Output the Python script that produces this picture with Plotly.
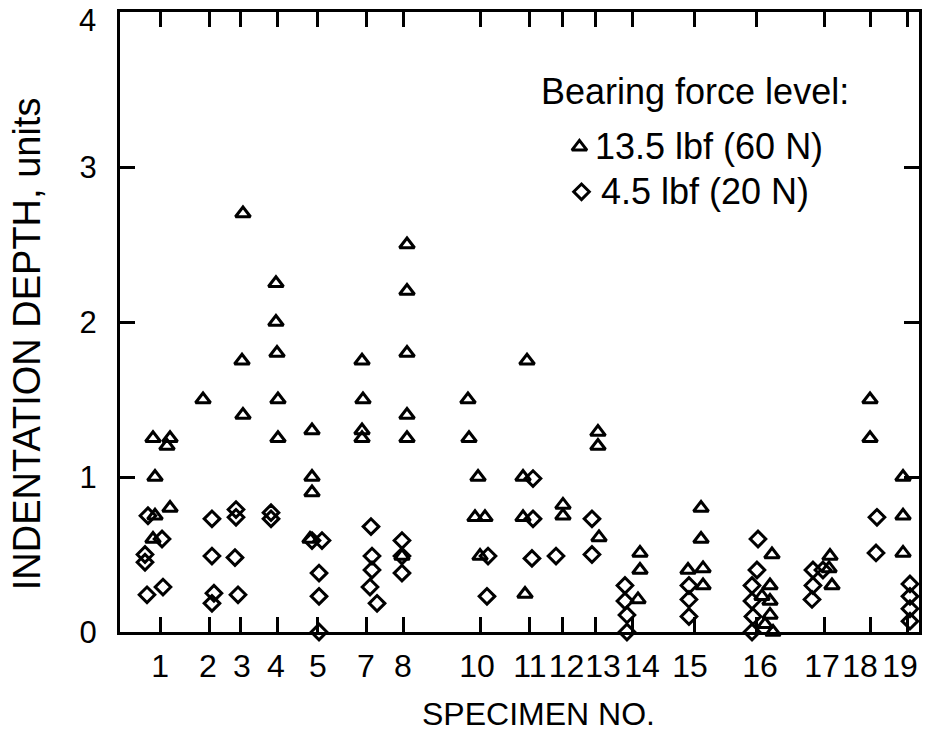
import plotly.graph_objects as go

# Specimen tick positions along the horizontal axis (axis units 0-100)
specimen_labels = ["1", "2", "3", "4", "5", "7", "8", "10", "11", "12",
                   "13", "14", "15", "16", "17", "18", "19"]
specimen_pos = [5.13, 11.14, 15.02, 19.65, 24.66, 30.91, 35.42, 45.06, 51.19,
                55.44, 59.57, 64.08, 71.96, 79.60, 88.11, 93.99, 98.62]
# Where each specimen number is printed (crowded numbers are nudged apart)
label_pos = [5.01, 11.01, 15.27, 19.52, 24.78, 30.79, 35.42, 44.68, 51.31,
             55.88, 60.45, 65.33, 71.34, 80.10, 87.86, 92.62, 97.62]

# 13.5 lbf (60 N) bearing force: indentation depth readings
high_x = [4.13, 6.26, 5.88, 4.38, 6.26, 4.38, 4.13,          # 1
          10.39,                                              # 2
          15.39, 15.27, 15.39,                                # 3
          19.52, 19.52, 19.65, 19.77, 19.77,                  # 4
          24.03, 24.03, 24.03, 23.78,                         # 5
          30.29, 30.41, 30.29, 30.29,                         # 7
          35.92, 35.92, 35.92, 35.92, 35.92, 35.29,           # 8
          43.55, 43.68, 44.81, 44.43, 45.68, 45.06,           # 10
          50.94, 50.44, 50.44, 50.69,                         # 11
          55.44, 55.44,                                       # 12
          59.82, 59.82, 59.95,                                # 13
          65.08, 65.08, 64.83,                                # 14
          72.72, 72.72, 71.09, 72.97, 72.97,                  # 15
          81.60, 81.35, 80.35, 81.35, 81.35, 80.73, 81.73,    # 16
          88.86, 88.74, 89.11,                                # 17
          93.87, 93.87,                                       # 18
          98.00, 98.00, 98.00]                                # 19
high_y = [1.25, 1.25, 1.20, 1.00, 0.80, 0.75, 0.60,
          1.50,
          2.70, 1.75, 1.40,
          2.25, 2.00, 1.80, 1.50, 1.25,
          1.30, 1.00, 0.90, 0.60,
          1.75, 1.50, 1.30, 1.25,
          2.50, 2.20, 1.80, 1.40, 1.25, 0.49,
          1.50, 1.25, 1.00, 0.74, 0.74, 0.49,
          1.75, 1.00, 0.74, 0.245,
          0.82, 0.75,
          1.29, 1.20, 0.61,
          0.51, 0.40, 0.21,
          0.80, 0.60, 0.40, 0.41, 0.30,
          0.50, 0.30, 0.23, 0.20, 0.11, 0.05, 0.00,
          0.49, 0.41, 0.30,
          1.50, 1.25,
          1.00, 0.75, 0.51]

# 4.5 lbf (20 N) bearing force: indentation depth readings
low_x = [3.50, 5.26, 3.13, 3.13, 3.38, 5.38,                  # 1
         11.51, 11.51, 11.76, 11.51,                          # 2
         14.52, 14.52, 14.39, 14.77,                          # 3
         18.90, 18.90,                                        # 4
         24.03, 25.28, 24.91, 24.91, 24.91,                   # 5
         31.41, 31.54, 31.54, 31.29, 32.17,                   # 7
         35.29, 35.29, 35.29,                                 # 8
         46.06, 45.93,                                        # 10
         51.69, 51.69, 51.56,                                 # 11
         54.57,                                               # 12
         59.07, 59.07,                                        # 13
         63.20, 63.20, 63.45, 63.45,                          # 14
         71.21, 71.21, 71.21,                                 # 15
         79.85, 79.72, 79.10, 79.10, 79.22, 79.10,            # 16
         86.73, 87.98, 86.73, 86.61,                          # 17
         94.74, 94.62,                                        # 18
         98.87, 98.87, 98.87, 98.87]                          # 19
low_y = [0.75, 0.60, 0.50, 0.45, 0.24, 0.29,
         0.73, 0.49, 0.25, 0.185,
         0.79, 0.74, 0.48, 0.24,
         0.77, 0.73,
         0.59, 0.59, 0.38, 0.23, 0.00,
         0.68, 0.49, 0.40, 0.29, 0.185,
         0.59, 0.49, 0.38,
         0.49, 0.23,
         0.99, 0.73, 0.475,
         0.49,
         0.73, 0.50,
         0.30, 0.20, 0.11, 0.00,
         0.30, 0.21, 0.10,
         0.60, 0.40, 0.30, 0.20, 0.10, 0.00,
         0.40, 0.40, 0.30, 0.21,
         0.74, 0.51,
         0.31, 0.23, 0.15, 0.07]

y_ticks = [0, 1, 2, 3, 4]
y_ticktext = ["0", "1", "2", "3", "4"]
series_names = ["13.5 lbf (60 N)", "4.5 lbf (20 N)"]
legend_title = "Bearing force level:"

FONT = "Liberation Sans, Arial, Helvetica, sans-serif"
INK = "black"

tri_marker = dict(symbol="triangle-up-open", size=13, color=INK,
                  line=dict(width=3, color=INK))
dia_marker = dict(symbol="diamond-open", size=12, color=INK,
                  line=dict(width=3, color=INK))

fig = go.Figure()
fig.add_trace(go.Scatter(x=high_x, y=high_y, mode="markers", name=series_names[0],
                         marker=tri_marker, cliponaxis=False, showlegend=False))
fig.add_trace(go.Scatter(x=low_x, y=low_y, mode="markers", name=series_names[1],
                         marker=dia_marker, cliponaxis=False, showlegend=False))

# Legend keys inside the plot area, upper right
key_x = [57.5, 57.76]
key_y = [3.13, 2.84]
fig.add_trace(go.Scatter(x=[key_x[0]], y=[key_y[0]], mode="markers",
                         marker=tri_marker, showlegend=False, hoverinfo="skip"))
fig.add_trace(go.Scatter(x=[key_x[1]], y=[key_y[1]], mode="markers",
                         marker=dia_marker, showlegend=False, hoverinfo="skip"))

tick_font = dict(size=31, family=FONT, color=INK)
legend_font = dict(size=36, family=FONT, color=INK)
annotations = [
    dict(text=legend_title, x=52.5, y=3.49, xref="x", yref="y",
         xanchor="left", yanchor="middle", showarrow=False, font=legend_font),
    dict(text=series_names[0], x=59.2, y=3.13, xref="x", yref="y",
         xanchor="left", yanchor="middle", showarrow=False, font=legend_font),
    dict(text=series_names[1], x=60.0, y=2.84, xref="x", yref="y",
         xanchor="left", yanchor="middle", showarrow=False, font=legend_font),
    dict(text="SPECIMEN NO.", x=0.524, y=-0.132, xref="paper", yref="paper",
         xanchor="center", yanchor="middle", showarrow=False,
         font=dict(size=32, family=FONT, color=INK)),
    dict(text="INDENTATION DEPTH, units", x=-0.117, y=0.465,
         xref="paper", yref="paper", textangle=-90,
         xanchor="center", yanchor="middle", showarrow=False,
         font=dict(size=38, family=FONT, color=INK)),
    # top value label, set just below the frame corner so it stays on the page
    dict(text=y_ticktext[-1], x=0, y=y_ticks[-1], xref="paper", yref="y",
         xanchor="right", yanchor="middle", xshift=-22, yshift=-8,
         showarrow=False, font=tick_font),
]

axis_common = dict(showline=True, linewidth=3, linecolor=INK, mirror="ticks",
                   ticks="inside", tickwidth=2.5, tickcolor=INK,
                   showgrid=False, zeroline=False, automargin=False)

fig.update_layout(
    width=929, height=735,
    margin=dict(l=120, r=10, t=12, b=103, autoexpand=False),
    paper_bgcolor="white", plot_bgcolor="white",
    font=dict(family=FONT, color=INK),
    annotations=annotations,
    # tick marks at the specimen positions
    xaxis=dict(range=[0, 100], tickvals=specimen_pos, showticklabels=False,
               ticklen=15, **axis_common),
    # specimen numbers, printed on a matching overlay axis
    xaxis2=dict(range=[0, 100], overlaying="x", side="bottom", anchor="y",
                tickvals=label_pos, ticktext=specimen_labels, tickangle=0,
                ticks="", showline=False, showgrid=False, zeroline=False,
                automargin=False, ticklabelstandoff=12,
                tickfont=dict(size=32, family=FONT, color=INK)),
    yaxis=dict(range=[0, 4], tickvals=y_ticks,
               ticktext=y_ticktext[:-1] + [""], ticklen=15,
               ticklabelstandoff=14, tickfont=tick_font, **axis_common),
)

# an empty trace so the label axis is drawn
fig.add_trace(go.Scatter(x=[], y=[], xaxis="x2", yaxis="y", showlegend=False))

fig.write_html("out.html")
